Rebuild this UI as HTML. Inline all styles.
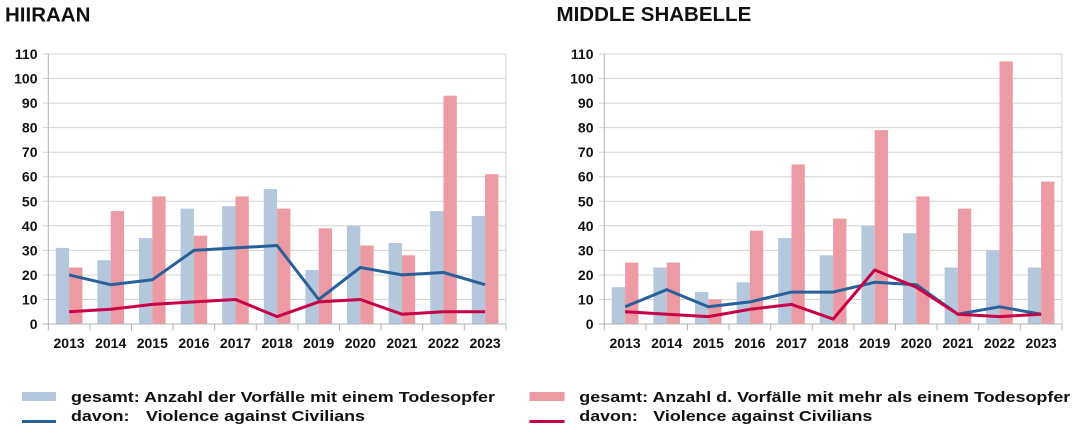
<!DOCTYPE html>
<html>
<head>
<meta charset="utf-8">
<style>
html,body{margin:0;padding:0;background:#fff;}
svg{display:block;}
text{font-family:"Liberation Sans",Arial,sans-serif;font-weight:bold;fill:#111;}
</style>
</head>
<body>
<svg width="1080" height="432" viewBox="0 0 1080 432" xmlns="http://www.w3.org/2000/svg">
<rect width="1080" height="432" fill="#fff"/>

<!-- Titles -->
<text x="5" y="21.5" font-size="20.5">HIIRAAN</text>
<text x="556.5" y="21" font-size="20.5">MIDDLE SHABELLE</text>

<defs>
<g id="frame">
  <g stroke="#d4d4d4" stroke-width="1">
    <line x1="42.7" y1="54" x2="505.9" y2="54"/>
    <line x1="42.7" y1="78.5" x2="505.9" y2="78.5"/>
    <line x1="42.7" y1="103.1" x2="505.9" y2="103.1"/>
    <line x1="42.7" y1="127.6" x2="505.9" y2="127.6"/>
    <line x1="42.7" y1="152.2" x2="505.9" y2="152.2"/>
    <line x1="42.7" y1="176.7" x2="505.9" y2="176.7"/>
    <line x1="42.7" y1="201.3" x2="505.9" y2="201.3"/>
    <line x1="42.7" y1="225.8" x2="505.9" y2="225.8"/>
    <line x1="42.7" y1="250.4" x2="505.9" y2="250.4"/>
    <line x1="42.7" y1="275" x2="505.9" y2="275"/>
    <line x1="42.7" y1="299.5" x2="505.9" y2="299.5"/>
    <line x1="505.9" y1="54" x2="505.9" y2="324"/>
  </g>
  <g font-size="14" text-anchor="end">
    <text x="37.5" y="59">110</text>
    <text x="37.5" y="83.5">100</text>
    <text x="37.5" y="108.1">90</text>
    <text x="37.5" y="132.6">80</text>
    <text x="37.5" y="157.2">70</text>
    <text x="37.5" y="181.7">60</text>
    <text x="37.5" y="206.3">50</text>
    <text x="37.5" y="230.8">40</text>
    <text x="37.5" y="255.4">30</text>
    <text x="37.5" y="280">20</text>
    <text x="37.5" y="304.5">10</text>
    <text x="37.5" y="329">0</text>
  </g>
  <g font-size="14" text-anchor="middle">
    <text x="69.1" y="348">2013</text>
    <text x="110.7" y="348">2014</text>
    <text x="152.3" y="348">2015</text>
    <text x="193.9" y="348">2016</text>
    <text x="235.5" y="348">2017</text>
    <text x="277.1" y="348">2018</text>
    <text x="318.7" y="348">2019</text>
    <text x="360.3" y="348">2020</text>
    <text x="401.9" y="348">2021</text>
    <text x="443.5" y="348">2022</text>
    <text x="485.1" y="348">2023</text>
  </g>
</g>
<g id="axes">
  <g stroke="#b3b3b3" stroke-width="1">
    <line x1="48.3" y1="54" x2="48.3" y2="330.5"/>
    <line x1="42.7" y1="324" x2="505.9" y2="324"/>
    <line x1="89.9" y1="324" x2="89.9" y2="330.5"/>
    <line x1="131.5" y1="324" x2="131.5" y2="330.5"/>
    <line x1="173.1" y1="324" x2="173.1" y2="330.5"/>
    <line x1="214.7" y1="324" x2="214.7" y2="330.5"/>
    <line x1="256.3" y1="324" x2="256.3" y2="330.5"/>
    <line x1="297.9" y1="324" x2="297.9" y2="330.5"/>
    <line x1="339.5" y1="324" x2="339.5" y2="330.5"/>
    <line x1="381.1" y1="324" x2="381.1" y2="330.5"/>
    <line x1="422.7" y1="324" x2="422.7" y2="330.5"/>
    <line x1="464.3" y1="324" x2="464.3" y2="330.5"/>
    <line x1="505.9" y1="324" x2="505.9" y2="330.5"/>
  </g>
</g>
</defs>

<!-- LEFT CHART: HIIRAAN -->
<use href="#frame"/>
<g fill="#b4c7dc">
  <rect x="55.8" y="247.9" width="13.3" height="76.1"/>
  <rect x="97.4" y="260.2" width="13.3" height="63.8"/>
  <rect x="139.0" y="238.1" width="13.3" height="85.9"/>
  <rect x="180.6" y="208.6" width="13.3" height="115.4"/>
  <rect x="222.2" y="206.2" width="13.3" height="117.8"/>
  <rect x="263.8" y="189" width="13.3" height="135"/>
  <rect x="305.4" y="270" width="13.3" height="54"/>
  <rect x="347.0" y="225.8" width="13.3" height="98.2"/>
  <rect x="388.6" y="243" width="13.3" height="81"/>
  <rect x="430.2" y="211.1" width="13.3" height="112.9"/>
  <rect x="471.8" y="216" width="13.3" height="108"/>
</g>
<g fill="#ec9ba4">
  <rect x="69.1" y="267.5" width="13.3" height="56.5"/>
  <rect x="110.7" y="211.1" width="13.3" height="112.9"/>
  <rect x="152.3" y="196.4" width="13.3" height="127.6"/>
  <rect x="193.9" y="235.6" width="13.3" height="88.4"/>
  <rect x="235.5" y="196.4" width="13.3" height="127.6"/>
  <rect x="277.1" y="208.6" width="13.3" height="115.4"/>
  <rect x="318.7" y="228.3" width="13.3" height="95.7"/>
  <rect x="360.3" y="245.5" width="13.3" height="78.5"/>
  <rect x="401.9" y="255.3" width="13.3" height="68.7"/>
  <rect x="443.5" y="95.7" width="13.3" height="228.3"/>
  <rect x="485.1" y="174.3" width="13.3" height="149.7"/>
</g>
<use href="#axes"/>
<polyline fill="none" stroke="#2a6099" stroke-width="3" stroke-linejoin="round" points="69.1,274.9 110.7,284.7 152.3,279.8 193.9,250.4 235.5,247.9 277.1,245.5 318.7,299.5 360.3,267.5 401.9,274.9 443.5,272.5 485.1,284.7"/>
<polyline fill="none" stroke="#c80046" stroke-width="3" stroke-linejoin="round" points="69.1,311.7 110.7,309.3 152.3,304.4 193.9,301.9 235.5,299.5 277.1,316.6 318.7,301.9 360.3,299.5 401.9,314.2 443.5,311.7 485.1,311.7"/>

<!-- RIGHT CHART: MIDDLE SHABELLE -->
<g transform="translate(556,0)">
<use href="#frame"/>
<g fill="#b4c7dc">
  <rect x="55.8" y="287.2" width="13.3" height="36.8"/>
  <rect x="97.4" y="267.5" width="13.3" height="56.5"/>
  <rect x="139.0" y="292.1" width="13.3" height="31.9"/>
  <rect x="180.6" y="282.3" width="13.3" height="41.7"/>
  <rect x="222.2" y="238.1" width="13.3" height="85.9"/>
  <rect x="263.8" y="255.3" width="13.3" height="68.7"/>
  <rect x="305.4" y="225.8" width="13.3" height="98.2"/>
  <rect x="347.0" y="233.2" width="13.3" height="90.8"/>
  <rect x="388.6" y="267.5" width="13.3" height="56.5"/>
  <rect x="430.2" y="250.4" width="13.3" height="73.6"/>
  <rect x="471.8" y="267.5" width="13.3" height="56.5"/>
</g>
<g fill="#ec9ba4">
  <rect x="69.1" y="262.6" width="13.3" height="61.4"/>
  <rect x="110.7" y="262.6" width="13.3" height="61.4"/>
  <rect x="152.3" y="299.5" width="13.3" height="24.5"/>
  <rect x="193.9" y="230.7" width="13.3" height="93.3"/>
  <rect x="235.5" y="164.5" width="13.3" height="159.5"/>
  <rect x="277.1" y="218.5" width="13.3" height="105.5"/>
  <rect x="318.7" y="130.1" width="13.3" height="193.9"/>
  <rect x="360.3" y="196.4" width="13.3" height="127.6"/>
  <rect x="401.9" y="208.6" width="13.3" height="115.4"/>
  <rect x="443.5" y="61.4" width="13.3" height="262.6"/>
  <rect x="485.1" y="181.6" width="13.3" height="142.4"/>
</g>
<use href="#axes"/>
<polyline fill="none" stroke="#2a6099" stroke-width="3" stroke-linejoin="round" points="69.1,306.8 110.7,289.6 152.3,306.8 193.9,301.9 235.5,292.1 277.1,292.1 318.7,282.3 360.3,284.7 401.9,314.2 443.5,306.8 485.1,314.2"/>
<polyline fill="none" stroke="#c80046" stroke-width="3" stroke-linejoin="round" points="69.1,311.7 110.7,314.2 152.3,316.6 193.9,309.3 235.5,304.4 277.1,319.1 318.7,270 360.3,287.2 401.9,314.2 443.5,316.6 485.1,314.2"/>
</g>

<!-- LEGEND -->
<rect x="22" y="392" width="34" height="9" fill="#b4c7dc"/>
<rect x="22" y="420" width="34" height="3" fill="#2a6099"/>
<rect x="529.5" y="392" width="35" height="9" fill="#ec9ba4"/>
<rect x="529.5" y="420" width="35" height="3" fill="#c80046"/>

<g font-size="15">
  <text x="71" y="401.9" textLength="424" lengthAdjust="spacingAndGlyphs">gesamt: Anzahl der Vorfälle mit einem Todesopfer</text>
  <text x="71" y="420.9" textLength="58.5" lengthAdjust="spacingAndGlyphs">davon:</text>
  <text x="146" y="420.9" textLength="219" lengthAdjust="spacingAndGlyphs">Violence against Civilians</text>
  <text x="579.3" y="401.9" textLength="491" lengthAdjust="spacingAndGlyphs">gesamt: Anzahl d. Vorfälle mit mehr als einem Todesopfer</text>
  <text x="579.3" y="420.9" textLength="58.5" lengthAdjust="spacingAndGlyphs">davon:</text>
  <text x="653.3" y="420.9" textLength="219" lengthAdjust="spacingAndGlyphs">Violence against Civilians</text>
</g>
</svg>
</body>
</html>
